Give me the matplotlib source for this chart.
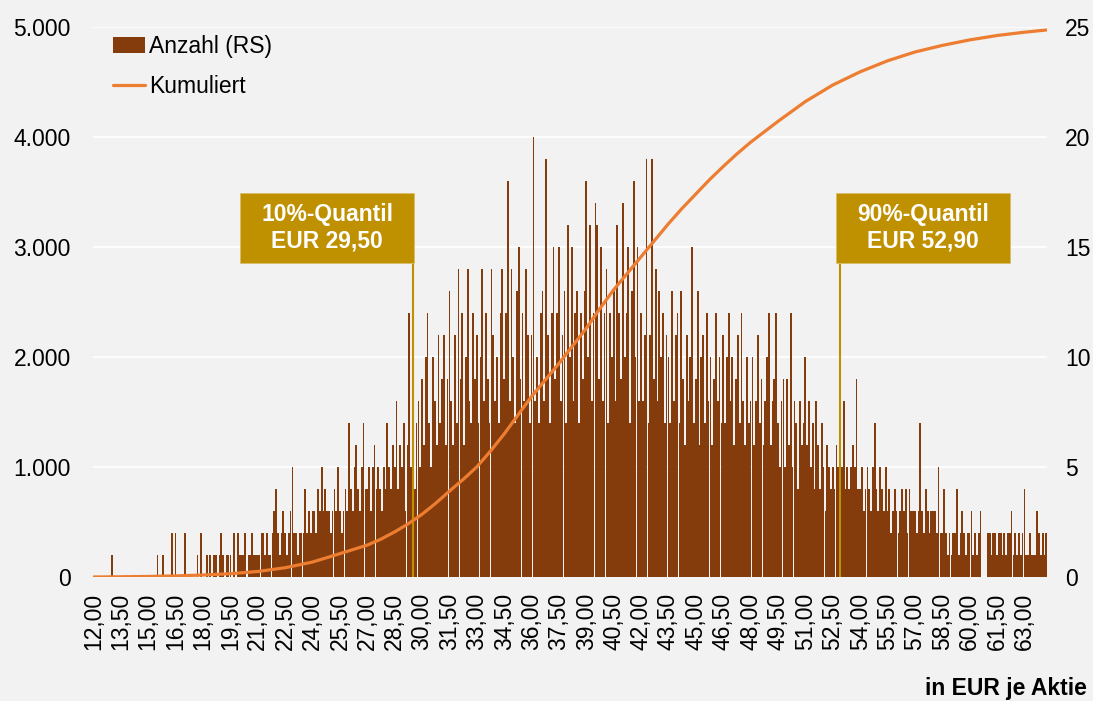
import numpy as np
import matplotlib.pyplot as plt
from matplotlib.patches import Rectangle
from matplotlib.ticker import FuncFormatter

plt.rcParams['font.family'] = ['Liberation Sans', 'DejaVu Sans']

# Kursklassen 12,00 ... 64,20 in Schritten von 0,10 EUR
kurs_start = 12.0
kurs_schritt = 0.1

# Anzahl je Kursklasse in Einheiten von 200 (je Zeile 15 Klassen = 1,50 EUR)
anzahl_200 = [
    0, 0, 0, 0, 0, 0, 0, 0, 0, 0, 1, 0, 0, 0, 0,            # 12,00
    0, 0, 0, 0, 0, 0, 0, 0, 0, 0, 0, 0, 0, 0, 0,            # 13,50
    0, 0, 0, 0, 0, 1, 0, 0, 1, 0, 0, 0, 0, 2, 0,            # 15,00
    2, 0, 0, 0, 0, 2, 0, 0, 0, 0, 0, 0, 1, 0, 2,            # 16,50
    0, 0, 1, 0, 1, 0, 1, 1, 0, 1, 2, 1, 0, 1, 1,            # 18,00
    1, 0, 2, 0, 2, 1, 1, 1, 2, 0, 1, 1, 2, 1, 1,            # 19,50
    1, 1, 2, 2, 1, 2, 1, 1, 2, 3, 4, 2, 1, 2, 3,            # 21,00
    2, 1, 2, 3, 5, 2, 2, 1, 2, 2, 2, 4, 2, 3, 2,            # 22,50
    3, 3, 2, 4, 3, 5, 3, 4, 3, 3, 2, 3, 4, 3, 5,            # 24,00
    3, 2, 3, 4, 3, 7, 4, 3, 5, 6, 4, 3, 5, 7, 4,            # 25,50
    4, 5, 3, 5, 6, 4, 5, 4, 3, 5, 4, 7, 5, 4, 6,            # 27,00
    5, 8, 4, 6, 5, 7, 3, 6, 12, 5, 8, 4, 7, 8, 5,           # 28,50
    9, 6, 10, 12, 7, 5, 10, 8, 6, 11, 7, 9, 11, 6, 9,       # 30,00
    13, 8, 6, 11, 7, 14, 9, 12, 6, 10, 14, 8, 7, 12, 9,     # 31,50
    11, 7, 10, 14, 8, 12, 9, 7, 14, 11, 8, 10, 7, 12, 14,   # 33,00
    9, 12, 18, 8, 14, 10, 7, 13, 15, 9, 12, 8, 14, 11, 7,   # 34,50
    11, 20, 8, 10, 7, 12, 13, 8, 19, 11, 7, 12, 15, 9, 12,  # 36,00
    15, 8, 11, 13, 7, 16, 10, 15, 8, 12, 13, 7, 12, 9, 13,  # 37,50
    18, 10, 16, 8, 12, 17, 16, 9, 15, 8, 12, 14, 7, 12, 10,  # 39,00
    13, 8, 16, 12, 9, 17, 10, 12, 15, 7, 13, 18, 10, 15, 8,  # 40,50
    12, 8, 11, 19, 7, 11, 19, 9, 14, 8, 13, 10, 12, 7, 11,  # 42,00
    10, 7, 13, 8, 11, 12, 7, 13, 9, 6, 11, 8, 10, 15, 7,    # 43,50
    9, 13, 6, 10, 11, 7, 12, 8, 10, 6, 9, 12, 8, 10, 7,     # 45,00
    11, 7, 10, 12, 8, 10, 6, 9, 11, 7, 12, 8, 6, 10, 7,     # 46,50
    8, 10, 6, 8, 11, 7, 9, 6, 8, 10, 12, 6, 8, 9, 12,       # 48,00
    7, 5, 8, 9, 5, 9, 6, 12, 5, 8, 7, 4, 8, 6, 7,           # 49,50
    10, 6, 8, 5, 7, 4, 8, 6, 4, 7, 5, 3, 6, 5, 4,           # 51,00
    5, 4, 6, 5, 3, 5, 8, 4, 5, 4, 5, 6, 5, 9, 4,            # 52,50
    4, 5, 3, 4, 5, 4, 3, 5, 7, 4, 3, 5, 4, 3, 5,            # 54,00
    3, 4, 2, 3, 4, 3, 2, 3, 4, 3, 4, 2, 4, 3, 3,            # 55,50
    3, 2, 3, 7, 3, 2, 4, 3, 2, 3, 3, 3, 2, 5, 2,            # 57,00
    2, 4, 2, 1, 2, 1, 2, 2, 4, 1, 2, 3, 2, 1, 2,            # 58,50
    2, 3, 1, 2, 1, 2, 3, 0, 0, 0, 2, 2, 1, 2, 2,            # 60,00
    1, 2, 2, 1, 2, 1, 2, 2, 3, 1, 2, 1, 2, 1, 2,            # 61,50
    4, 1, 1, 2, 1, 1, 1, 3, 2, 1, 2, 1, 2,                  # 63,00
]

# kumulierte Anzahl (rechte Achse)
kum_kurs = [12.0, 13.5, 15.0, 16.5, 18.0, 19.5, 21.0, 22.5, 24.0, 25.5, 27.0, 27.75,
            28.5, 29.25, 30.0, 30.75, 31.5, 32.25, 33.0, 33.75, 34.5, 35.25, 36.0, 36.75,
            37.5, 38.25, 39.0, 39.75, 40.5, 41.25, 42.0, 42.75, 43.5, 44.25, 45.0, 45.75,
            46.5, 47.25, 48.0, 49.5, 51.0, 52.5, 54.0, 55.5, 57.0, 58.5, 60.0, 61.5,
            63.0, 64.2]
kum_wert = [0, 10, 25, 50, 90, 150, 250, 420, 680, 1060, 1450, 1720,
            2050, 2420, 2850, 3350, 3900, 4430, 5000, 5720, 6500, 7350, 8200, 8950,
            9700, 10500, 11300, 12200, 13050, 13800, 14550, 15300, 16050, 16750, 17400, 18050,
            18650, 19220, 19750, 20700, 21600, 22350, 22950, 23450, 23850, 24150, 24400, 24600,
            24750, 24850]

quantil_prozent = [10, 90]
quantil_kurs = [29.50, 52.90]

BRAUN = '#843C0C'
ORANGE = '#ED7D31'
GOLD = '#BF9000'
HG = '#F2F2F2'
FS = 16.5


def de_zahl(v, p=None):
    return f"{int(round(v)):,}".replace(",", ".")


def kurs_pos(k):
    return (k - kurs_start) / kurs_schritt


anzahl = np.array(anzahl_200) * 200
pos = np.arange(len(anzahl))

fig = plt.figure(figsize=(10.93, 7.01), dpi=100, facecolor=HG)
ax = fig.add_axes([0.0847, 0.1769, 0.8734, 0.785])
ax.set_facecolor(HG)

balken = ax.bar(pos, anzahl, width=0.95, color=BRAUN, linewidth=0, zorder=2)
ax.set_xlim(-0.5, len(anzahl) - 0.5)
ax.set_ylim(0, 5000)
ax.set_yticks(np.arange(0, 5001, 1000))
ax.yaxis.set_major_formatter(FuncFormatter(de_zahl))
ax.grid(axis='y', color='white', linewidth=1.3, zorder=0)
ax.set_axisbelow(True)

tick_pos = pos[::15]
ax.set_xticks(tick_pos)
ax.set_xticklabels([f"{kurs_start + p * kurs_schritt:.2f}".replace(".", ",") for p in tick_pos],
                   rotation=90, va='top', ha='center')
ax.tick_params(axis='x', length=0, pad=11.5, labelsize=FS)
ax.tick_params(axis='y', length=0, pad=15.8, labelsize=FS)
for s in ax.spines.values():
    s.set_visible(False)

# rechte Achse in Tausend
ax2 = ax.twinx()
ax2.set_ylim(0, 25000)
ax2.set_yticks(np.arange(0, 25001, 5000))
ax2.yaxis.set_major_formatter(FuncFormatter(lambda v, p: f"{int(round(v / 1000))}"))
ax2.tick_params(axis='y', length=0, pad=13, labelsize=FS)
for s in ax2.spines.values():
    s.set_visible(False)
linie, = ax2.plot([kurs_pos(k) for k in kum_kurs], kum_wert, color=ORANGE, lw=2.3,
                  solid_capstyle='round', solid_joinstyle='round')

# Quantil-Markierungen
box_b, box_h = 95, 640
box_y0 = 2850
for prozent, kurs in zip(quantil_prozent, quantil_kurs):
    xq = kurs_pos(kurs)
    x0 = xq - box_b + 0.5 if prozent < 50 else xq - 2
    ax.vlines(xq, 0, box_y0, color=GOLD, lw=1.5, zorder=4)
    ax.add_patch(Rectangle((x0, box_y0), box_b, box_h, facecolor=GOLD,
                           edgecolor='#D9BE6A', lw=0.6, zorder=5))
    ax.text(x0 + box_b / 2, box_y0 + box_h / 2,
            f"{prozent}%-Quantil\nEUR {kurs:.2f}".replace(".", ","),
            ha='center', va='center', color='white', fontsize=FS,
            fontweight='bold', linespacing=1.2, zorder=6)

ax2.legend([balken, linie], ['Anzahl (RS)', 'Kumuliert'], loc='upper left',
           bbox_to_anchor=(0.021, 0.985), frameon=False, fontsize=FS,
           handlelength=1.4, handletextpad=0.2, labelspacing=0.75,
           borderaxespad=0, borderpad=0)

fig.text(1087 / 1093, 6 / 701, 'in EUR je Aktie', ha='right', va='baseline',
         fontsize=FS, fontweight='bold')

fig.savefig('out.png', dpi=100, facecolor=HG)
